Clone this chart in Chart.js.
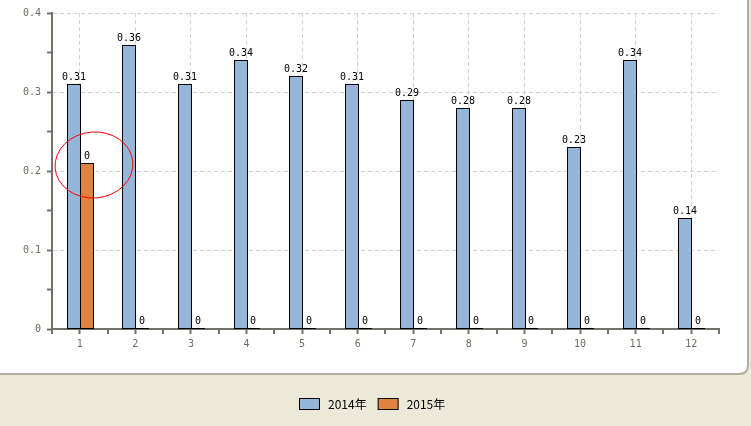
<!DOCTYPE html>
<html>
<head>
<meta charset="utf-8">
<script src="https://cdn.jsdelivr.net/npm/chart.js@4.4.1/dist/chart.umd.min.js"></script>
<style>
html,body{margin:0;padding:0;background:#ece9d8;}
#wrap{width:751px;height:426px;position:relative;}
canvas{display:block;}
</style>
</head>
<body>
<div id="wrap"><canvas id="c" width="751" height="426"></canvas></div>
<script>
const categories = ['1','2','3','4','5','6','7','8','9','10','11','12'];
const seriesNames = ['2014年','2015年'];
const values2014 = [0.31,0.36,0.31,0.34,0.32,0.31,0.29,0.28,0.28,0.23,0.34,0.14];
const values2015 = [0.21,0,0,0,0,0,0,0,0,0,0,0];
const labels2014 = ['0.31','0.36','0.31','0.34','0.32','0.31','0.29','0.28','0.28','0.23','0.34','0.14'];
const labels2015 = ['0','0','0','0','0','0','0','0','0','0','0','0'];
const yTickValues = [0,0.1,0.2,0.3,0.4];

const valueLabels = [labels2014, labels2015];
const AXIS = '#747168';
const MONO = '"DejaVu Sans Mono", "Liberation Mono", monospace';

const panelPlugin = {
  id: 'panel',
  beforeDraw(chart){
    const ctx = chart.ctx;
    ctx.save();
    ctx.fillStyle = '#ece9d8';
    ctx.fillRect(0,0,chart.width,chart.height);
    const x0=-10,y0=-10,x1=748,y1=374,r=9;
    ctx.beginPath();
    ctx.moveTo(x0,y0);
    ctx.lineTo(x1,y0);
    ctx.lineTo(x1,y1-r);
    ctx.quadraticCurveTo(x1,y1,x1-r,y1);
    ctx.lineTo(x0,y1);
    ctx.closePath();
    ctx.fillStyle='#ffffff';
    ctx.fill();
    ctx.lineWidth=2;
    ctx.strokeStyle='#aeaca2';
    ctx.stroke();
    ctx.restore();
  },
  beforeDatasetsDraw(chart){
    // snap bar edges to whole pixels so the 1px outlines stay crisp;
    // the two bars of a month share one outline pixel
    chart.data.datasets.forEach((ds, i) => {
      chart.getDatasetMeta(i).data.forEach(el => {
        el.x = Math.round(el.x) + (i === 0 ? 1 : 0);
        el.width = Math.round(el.width);
        el.y = Math.round(el.y);
        el.base = Math.round(el.base);
      });
    });
  },
  afterDatasetsDraw(chart){
    const ctx = chart.ctx;
    ctx.save();
    // boundary ticks on x axis
    const xs = chart.scales.x;
    const half = (xs.getPixelForValue(1)-xs.getPixelForValue(0))/2;
    ctx.strokeStyle = AXIS; ctx.lineWidth = 2;
    for(let i=0;i<=categories.length;i++){
      const px = Math.round(xs.getPixelForValue(i)-half);
      ctx.beginPath(); ctx.moveTo(px, xs.top); ctx.lineTo(px, xs.top+5); ctx.stroke();
    }
    // value labels
    ctx.font = '10px ' + MONO;
    ctx.fillStyle = '#000';
    ctx.textAlign = 'center';
    ctx.textBaseline = 'alphabetic';
    chart.data.datasets.forEach((ds, i) => {
      const meta = chart.getDatasetMeta(i);
      meta.data.forEach((bar, j) => {
        const top = Math.min(bar.y, bar.base);
        ctx.fillText(valueLabels[i][j], bar.x, top - 4);
      });
    });
    // red hand-drawn circle annotation around first 2015 bar
    const b = chart.getDatasetMeta(1).data[0];
    ctx.strokeStyle = '#ff0000'; ctx.lineWidth = 1;
    ctx.beginPath();
    ctx.ellipse(b.x + 7, b.y + 2, 39, 33, -0.08, 0, Math.PI*2);
    ctx.stroke();
    // legend
    ctx.font = '12px "Noto Sans CJK SC", sans-serif';
    ctx.textAlign = 'left';
    ctx.textBaseline = 'middle';
    const items = chart.data.datasets.map(d => ({label:d.label, color:d.backgroundColor, w: 21 + 8 + ctx.measureText(d.label).width}));
    const gap = 11;
    const total = items.reduce((s,it)=>s+it.w,0) + gap*(items.length-1);
    let lx = Math.round((chart.width - total)/2) - 3;
    const ly = 404;
    items.forEach(it => {
      ctx.fillStyle = it.color;
      ctx.fillRect(lx+0.5, ly-6+0.5, 20, 11);
      ctx.strokeStyle = '#000'; ctx.lineWidth = 1;
      ctx.strokeRect(lx+0.5, ly-6+0.5, 20, 11);
      ctx.fillStyle = '#000';
      ctx.fillText(it.label, lx + 29, ly);
      lx += it.w + gap;
    });
    ctx.restore();
  }
};

new Chart(document.getElementById('c'), {
  type: 'bar',
  data: {
    labels: categories,
    datasets: [
      {label: seriesNames[0], data: values2014, backgroundColor:'#95b6d9', borderColor:'#000', borderWidth:1, borderSkipped:false, minBarLength:1, inflateAmount:0},
      {label: seriesNames[1], data: values2015, backgroundColor:'#e08340', borderColor:'#000', borderWidth:1, borderSkipped:false, minBarLength:1, inflateAmount:0}
    ]
  },
  options: {
    responsive: false,
    animation: false,
    devicePixelRatio: 1,
    layout: {padding: {left:0, right:32, top:13, bottom:57}},
    datasets: {bar: {categoryPercentage:0.5, barPercentage:1.0}},
    plugins: {legend:{display:false}, tooltip:{enabled:false}},
    scales: {
      x: {
        grid: {offset:false, color:'#d2d2d2', drawTicks:true, tickLength:5, tickColor:AXIS, tickWidth:2},
        border: {color:AXIS, width:2, dash:[4,3]},
        ticks: {color:'#6e6b60', font:{family:MONO, size:10}, padding:4},
        afterFit(s){ s.height = 40; }
      },
      y: {
        min:0, max:0.4,
        grid: {
          color: c => (Math.round(c.tick.value*100) % 10 === 0) ? '#d2d2d2' : 'rgba(0,0,0,0)',
          tickColor: AXIS, tickLength:5, tickWidth:2
        },
        border: {color:AXIS, width:2, dash:[4,3]},
        ticks: {
          stepSize:0.05, color:'#6e6b60', font:{family:MONO, size:10}, padding:6,
          callback: v => { const k = yTickValues.findIndex(t => Math.abs(t - v) < 1e-6); return k >= 0 ? String(yTickValues[k]) : ''; }
        },
        afterFit(s){ s.width = 52; }
      }
    }
  },
  plugins: [panelPlugin]
});
</script>
</body>
</html>
